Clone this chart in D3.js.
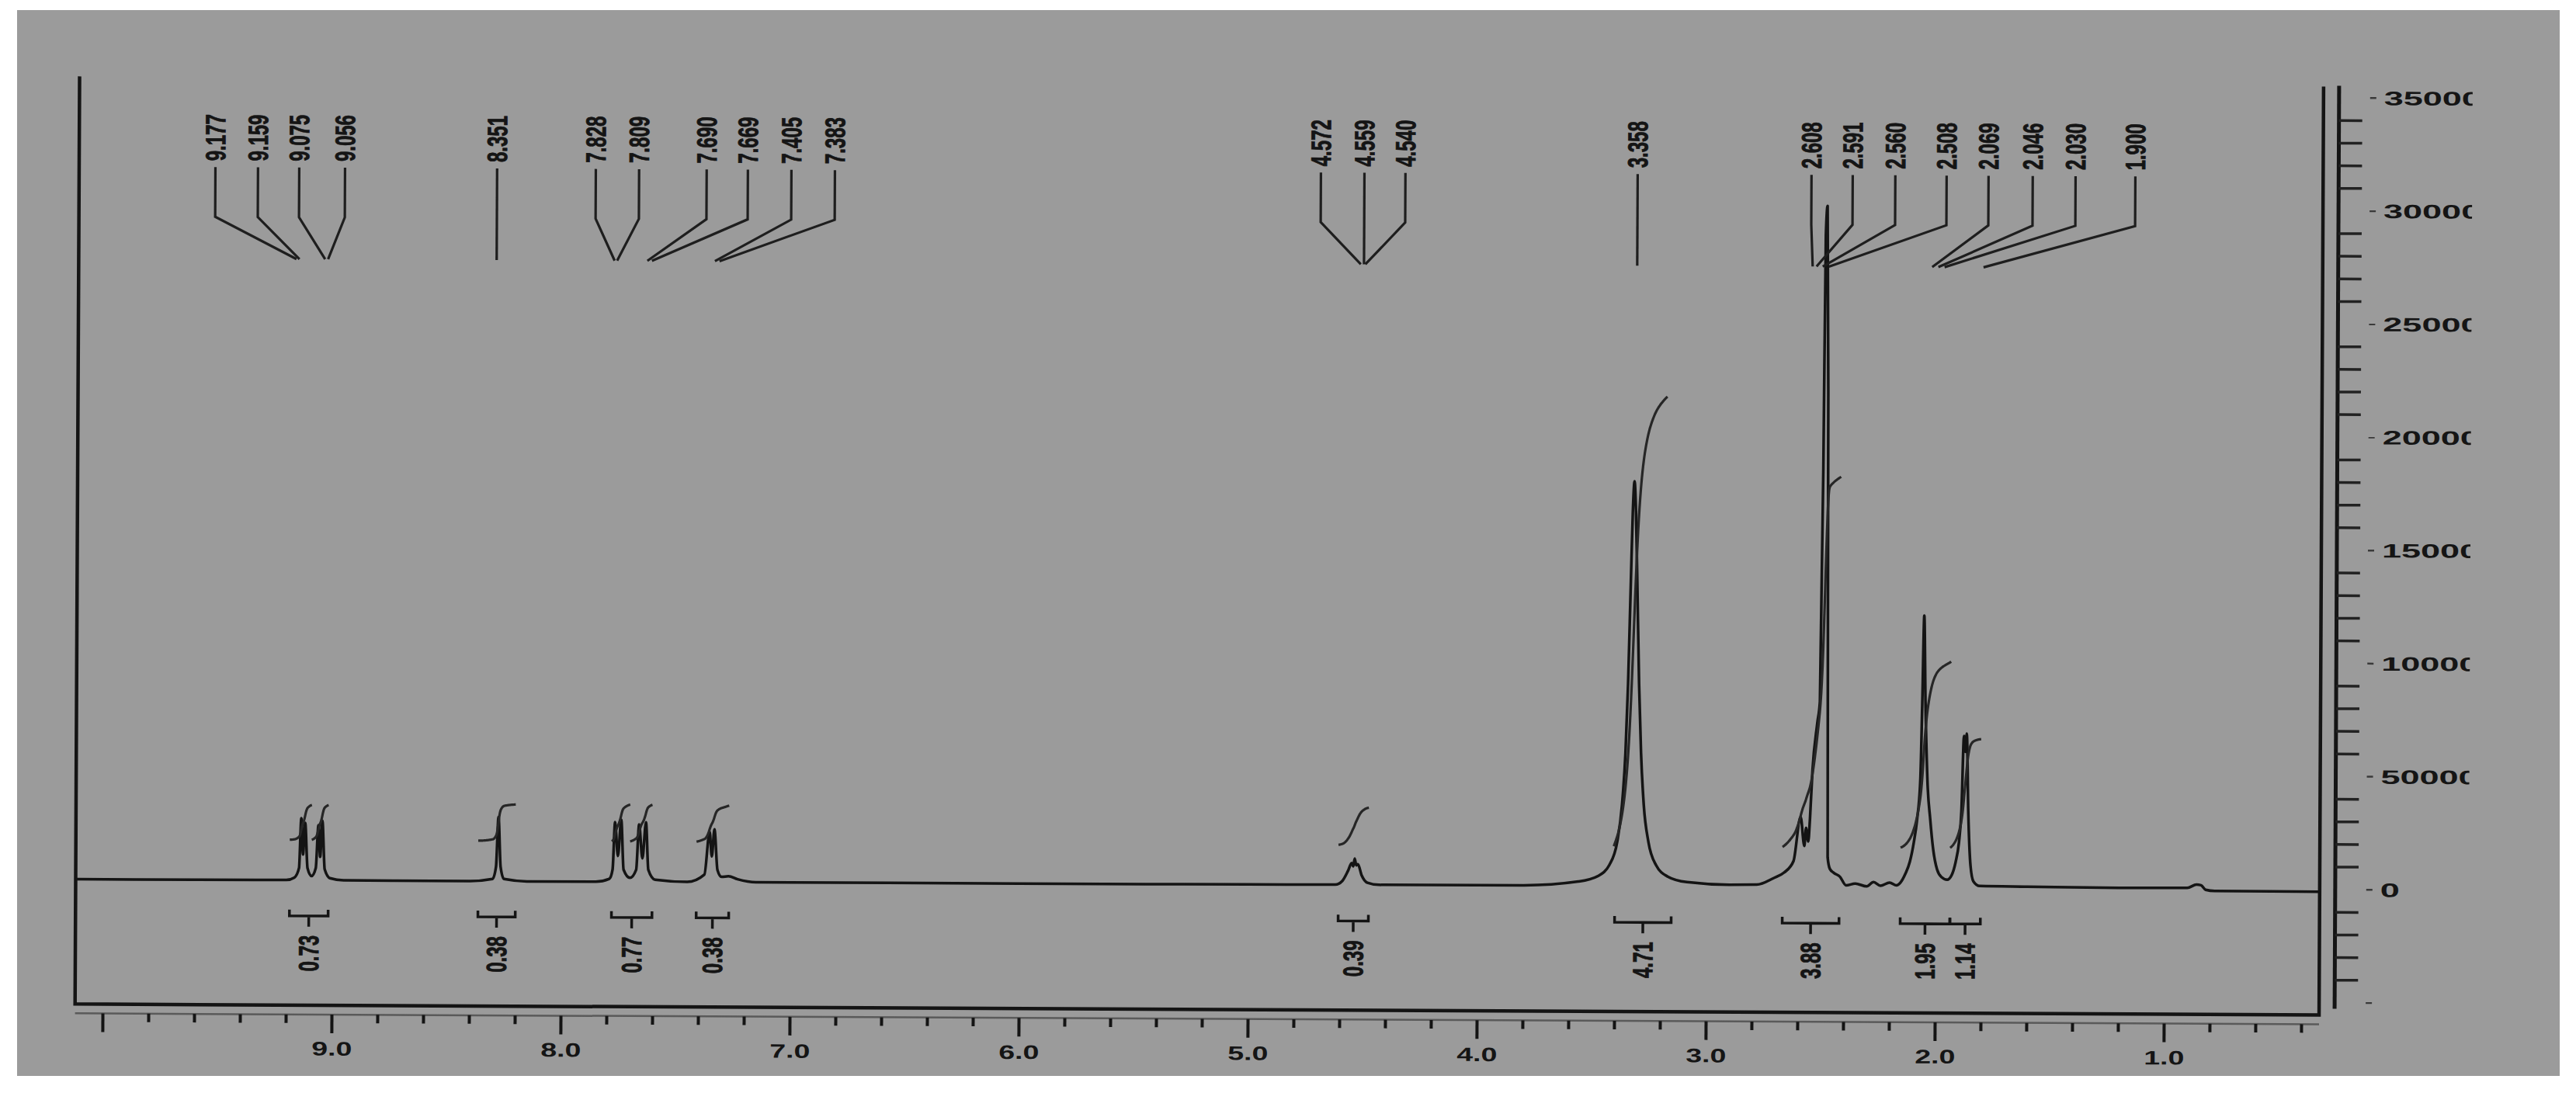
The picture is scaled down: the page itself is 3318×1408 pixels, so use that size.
<!DOCTYPE html>
<html><head><meta charset="utf-8">
<script src="https://cdn.jsdelivr.net/npm/d3@7"></script>
<style>
html,body{margin:0;padding:0;background:#fff;}
svg{display:block;}
text{font-family:"Liberation Sans",Arial,sans-serif;font-weight:bold;fill:#151515;}
</style></head><body>
<svg id="c" width="3318" height="1408"></svg>
<script>
// ---------------- DATA ----------------
const xMajorTicks = [10, 9, 8, 7, 6, 5, 4, 3, 2, 1];
const xMajorLabels = ["", "9.0", "8.0", "7.0", "6.0", "5.0", "4.0", "3.0", "2.0", "1.0"];
const xMinorTicks = [9.8,9.6,9.4,9.2,8.8,8.6,8.4,8.2,7.8,7.6,7.4,7.2,6.8,6.6,6.4,6.2,5.8,5.6,5.4,5.2,4.8,4.6,4.4,4.2,3.8,3.6,3.4,3.2,2.8,2.6,2.4,2.2,1.8,1.6,1.4,1.2,0.8,0.6,0.4];
const yMajorTicks = [-50000, 0, 50000, 100000, 150000, 200000, 250000, 300000, 350000];
const yMajorLabels = ["", "0", "50000", "100000", "150000", "200000", "250000", "300000", "350000"];
const yMinorTicks = [-40000,-30000,-20000,-10000,10000,20000,30000,40000,60000,70000,80000,90000,110000,120000,130000,140000,160000,170000,180000,190000,210000,220000,230000,240000,260000,270000,280000,290000,310000,320000,330000,340000];

// spectrum: [ppm, intensity]
const spectrum = [
[10.12,-400],[9.60,-400],[9.20,-300],[9.165,800],[9.145,5000],[9.136,27000],[9.128,11000],[9.119,25000],[9.108,5000],[9.09,1500],
[9.072,5000],[9.061,24000],[9.053,10000],[9.044,26000],[9.033,4500],[9.01,600],[8.95,-300],
[8.40,-400],[8.30,600],[8.285,6000],[8.275,28000],[8.265,6000],[8.25,600],[8.15,-400],
[7.85,-400],[7.79,900],[7.776,5000],[7.766,26000],[7.753,11000],[7.739,27000],[7.728,5000],[7.70,1400],
[7.673,5000],[7.661,25000],[7.646,10000],[7.631,26000],[7.620,5000],[7.59,600],
[7.45,-300],[7.375,3000],[7.353,22000],[7.343,11000],[7.332,23000],[7.318,5000],[7.30,2000],[7.27,2300],[7.23,1000],[7.15,-300],
[6.00,-300],[5.00,-200],
[4.62,-100],[4.59,1500],[4.565,6000],[4.549,9500],[4.542,8000],[4.536,11500],[4.529,8500],[4.522,9000],[4.505,4000],[4.48,800],[4.43,-100],
[3.80,0],[3.559,1800],[3.475,4200],[3.424,9200],[3.390,19500],[3.370,35800],[3.356,58800],[3.346,89400],[3.336,134800],[3.329,165000],[3.322,178800],[3.315,165000],[3.308,134800],[3.298,89400],[3.288,58800],[3.275,35800],[3.254,19500],[3.220,9200],[3.169,4200],[3.085,1800],[2.90,700],[2.78,800],
[2.705,3800],[2.661,6200],[2.620,11300],[2.590,30900],[2.573,18000],[2.566,26000],[2.556,20000],[2.549,30000],[2.539,51500],[2.519,72400],[2.508,82000],[2.498,185000],[2.492,288000],[2.485,301000],[2.478,219000],[2.471,13000],[2.461,7900],[2.444,6200],[2.417,4500],[2.390,700],
[2.35,1500],[2.30,300],[2.27,2200],[2.24,600],[2.20,2000],[2.17,800],
[2.153,2000],[2.132,5800],[2.112,11300],[2.095,19900],[2.081,30200],[2.068,47400],[2.061,81700],[2.054,120100],[2.047,81700],[2.037,47400],[2.024,30200],[2.010,16500],[1.993,7900],[1.973,4500],[1.949,3400],
[1.929,5500],[1.912,11300],[1.898,19900],[1.888,33600],[1.878,67000],[1.872,60000],[1.866,68000],[1.858,33600],[1.847,9600],[1.834,2700],[1.807,700],
[1.60,500],[1.20,200],[0.90,300],[0.86,1800],[0.84,1500],[0.82,-500],[0.78,-1000],[0.322,-1100]
];

// peak labels (text), where each label sits (ppm) and where its leader points (ppm)
const peakLabels = ["9.177","9.159","9.075","9.056","8.351","7.828","7.809","7.690","7.669","7.405","7.383","4.572","4.559","4.540","3.358","2.608","2.591","2.560","2.508","2.069","2.046","2.030","1.900"];
const peakLabelPpm = [9.525,9.339,9.159,8.959,8.295,7.864,7.675,7.380,7.200,7.010,6.820,4.698,4.508,4.329,3.315,2.556,2.376,2.190,1.966,1.783,1.590,1.403,1.142];
const peakLeaderPpm = [9.169,9.156,9.044,9.031,8.295,7.780,7.769,7.637,7.617,7.342,7.322,4.522,4.512,4.502,3.315,2.549,2.532,2.505,2.478,2.027,2.000,1.973,1.803];

// integrals
const integralLabels = ["0.73","0.38","0.77","0.38","0.39","4.71","3.88","1.95","1.14"];
const integralFrom = [9.186, 8.363, 7.780, 7.410, 4.607, 3.400, 2.668, 2.153, 1.936];
const integralTo   = [9.017, 8.200, 7.603, 7.268, 4.475, 3.153, 2.420, 1.936, 1.803];
// integral curves (some regions drawn as two curves)
const curveFrom   = [9.186, 9.090, 8.363, 7.780, 7.700, 7.410, 4.607, 3.405, 2.668, 2.153, 1.936];
const curveTo     = [9.090, 9.017, 8.200, 7.700, 7.603, 7.268, 4.475, 3.180, 2.420, 1.936, 1.803];
const curveAmount = [0.365, 0.365, 0.38, 0.385, 0.385, 0.38, 0.39, 4.71, 3.88, 1.95, 1.14];

// ---------------- LAYOUT ----------------
const W = 3318, H = 1408;
const INK = "#141414";
const svg = d3.select("#c");
svg.append("rect").attr("width", W).attr("height", H).attr("fill", "#fff");
svg.append("rect").attr("x", 22).attr("y", 13).attr("width", 3275).attr("height", 1373).attr("fill", "#9b9b9b");

const g = svg.append("g").attr("transform", "rotate(0.28,1660,700)");

const x = d3.scaleLinear().domain([9, 1]).range([430, 2790]);
const y = d3.scaleLinear().domain([0, 350000]).range([1139, 119]);
const yInt = d3.scaleLinear().domain([0, 5]).range([1088, 1088 - 5 * 123]);

const frameL = x(10.12), frameR = x(0.322), frameTop = 106, frameBottom = 1301;
const axisY = 1313;
const yAxisX = 3010;

// frame
g.append("path")
  .attr("d", `M${frameL},${frameTop} V${frameBottom} H${frameR} V${frameTop - 1}`)
  .attr("fill", "none").attr("stroke", INK).attr("stroke-width", 4.5);

// x axis: minor ticks
const gxMinor = g.append("g").attr("transform", `translate(0,${axisY})`)
  .call(d3.axisBottom(x).tickValues(xMinorTicks).tickSize(11).tickSizeOuter(0).tickFormat(""));
gxMinor.select(".domain").attr("stroke", "#5a5a5a").attr("stroke-width", 2.5)
  .attr("d", `M${x(10.12)},0H${x(0.322)}`);
gxMinor.selectAll(".tick line").attr("stroke", INK).attr("stroke-width", 4);

// x axis: major ticks + labels
const gxMajor = g.append("g").attr("transform", `translate(0,${axisY})`)
  .call(d3.axisBottom(x).tickValues(xMajorTicks).tickSize(24).tickSizeOuter(0).tickPadding(11)
        .tickFormat((d, i) => xMajorLabels[i]));
gxMajor.select(".domain").remove();
gxMajor.selectAll(".tick line").attr("stroke", INK).attr("stroke-width", 4);
gxMajor.selectAll(".tick text").attr("font-size", 25).attr("fill", INK)
  .attr("font-family", '"Liberation Sans",Arial,sans-serif').attr("font-weight", "bold")
  .attr("transform", "scale(1.5,1)");

// y axis (right)
g.append("line").attr("x1", yAxisX).attr("x2", yAxisX).attr("y1", 104).attr("y2", 1293)
  .attr("stroke", INK).attr("stroke-width", 5);
const gyMinor = g.append("g").attr("transform", `translate(${yAxisX},0)`)
  .call(d3.axisRight(y).tickValues(yMinorTicks).tickSize(30).tickSizeOuter(0).tickFormat(""));
gyMinor.select(".domain").remove();
gyMinor.selectAll(".tick line").attr("stroke", "#222").attr("stroke-width", 3.5);
const gyMajor = g.append("g").attr("transform", `translate(${yAxisX},0)`)
  .call(d3.axisRight(y).tickValues(yMajorTicks).tickSize(48).tickSizeOuter(0).tickPadding(8)
        .tickFormat((d, i) => yMajorLabels[i]));
gyMajor.select(".domain").remove();
gyMajor.selectAll(".tick line").attr("stroke", "#3a3a3a").attr("stroke-width", 2.5);
// clip for labels (photo crops the last digit)
svg.append("defs").append("clipPath").attr("id", "ylabclip")
  .append("rect").attr("x", 40).attr("y", -40).attr("width", 132).attr("height", 80);
gyMajor.selectAll(".tick").each(function () {
  const t = d3.select(this).select("text");
  t.attr("x", 0).attr("dy", "0.36em").attr("font-size", 25).attr("fill", INK)
   .attr("font-family", '"Liberation Sans",Arial,sans-serif').attr("font-weight", "bold")
   .attr("text-anchor", "start")
   .attr("transform", "translate(58,0) scale(1.8,1)");
  d3.select(this).attr("clip-path", "url(#ylabclip)");
});

// spectrum
const line = d3.line().x(d => x(d[0])).y(d => y(d[1])).curve(d3.curveMonotoneX);
g.append("path").datum(spectrum).attr("d", line)
  .attr("fill", "none").attr("stroke", INK).attr("stroke-width", 3.5).attr("stroke-linejoin", "round");

// integral curves (cumulative of the spectrum over each region)
const specInterp = d3.scaleLinear().domain(spectrum.map(d => d[0])).range(spectrum.map(d => d[1])).clamp(true);
curveFrom.forEach((f, i) => {
  const t = curveTo[i], N = 90;
  const pts = [];
  let cum = 0;
  const vals = d3.range(N + 1).map(k => f + (t - f) * k / N);
  const cums = vals.map((p, k) => { if (k > 0) cum += Math.max(0, specInterp(p)) + Math.max(0, specInterp(vals[k - 1])); return cum; });
  const total = cum || 1;
  vals.forEach((p, k) => pts.push([x(p), yInt(curveAmount[i] * cums[k] / total)]));
  g.append("path").attr("d", d3.line().curve(d3.curveBasis)(pts))
    .attr("fill", "none").attr("stroke", "#262626").attr("stroke-width", 3.2);
});

// integral brackets + values
integralLabels.forEach((lab, i) => {
  const x0 = x(integralFrom[i]), x1 = x(integralTo[i]), cx = (x0 + x1) / 2;
  g.append("path").attr("d", `M${x0},1178V1186H${x1}V1178M${cx},1186V1200`)
    .attr("fill", "none").attr("stroke", INK).attr("stroke-width", 3.5);
  g.append("text").attr("transform", `translate(${cx},1211) scale(1.5,1) rotate(-90)`)
    .attr("text-anchor", "end").attr("dy", "0.35em").attr("font-size", 24)
    .attr("stroke", INK).attr("stroke-width", 0.6).text(lab);
});

// peak labels + leaders
peakLabels.forEach((lab, i) => {
  const lx = x(peakLabelPpm[i]), ex = x(peakLeaderPpm[i]);
  const d = Math.abs(lx - ex) < 2 ? `M${lx},222V340` : `M${lx},222V286L${ex},340`;
  g.append("path").attr("d", d).attr("fill", "none").attr("stroke", "#1e1e1e").attr("stroke-width", 3.2);
  g.append("text").attr("transform", `translate(${lx},214) scale(1.5,1) rotate(-90)`)
    .attr("text-anchor", "start").attr("dy", "0.35em").attr("font-size", 24)
    .attr("stroke", INK).attr("stroke-width", 0.6).text(lab);
});
</script>
</body></html>
